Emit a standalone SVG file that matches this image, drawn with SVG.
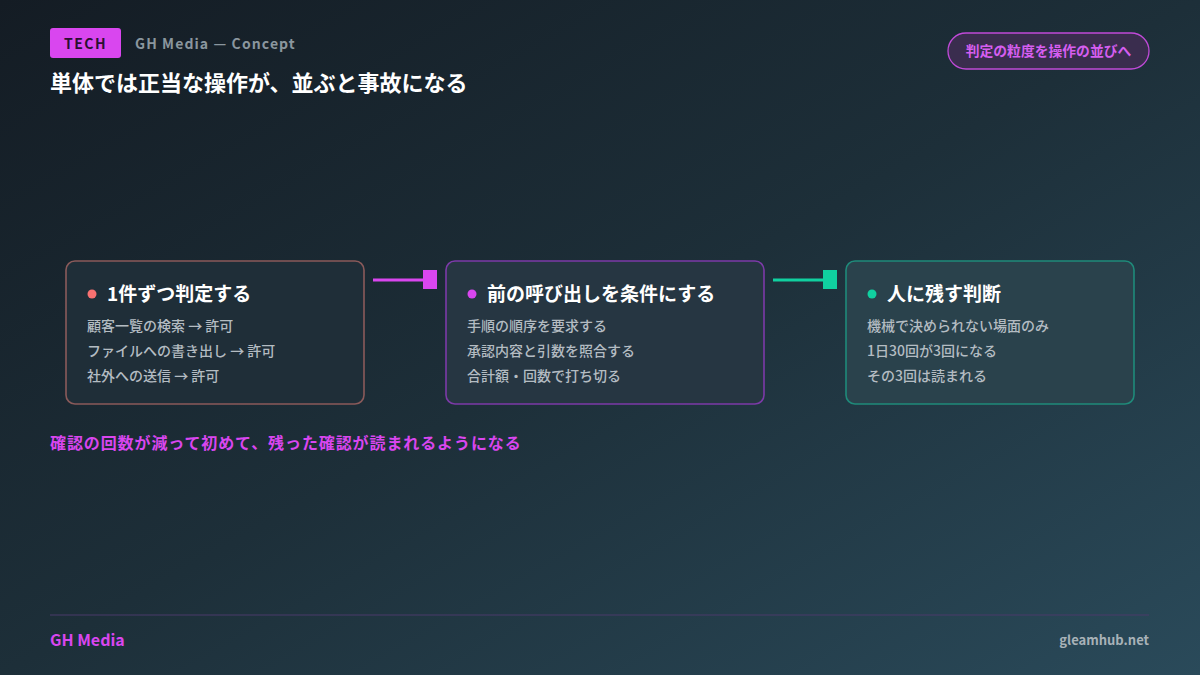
<svg xmlns="http://www.w3.org/2000/svg" width="1200" height="675" viewBox="0 0 1200 675">
<defs>
<linearGradient id="bg" x1="0" y1="0" x2="1" y2="1">
<stop offset="0" stop-color="#141c24"/><stop offset="0.5" stop-color="#1d2f39"/><stop offset="1" stop-color="#2a4a5a"/>
</linearGradient>
<style>
text{font-family:"Noto Sans CJK JP","Noto Sans",sans-serif}
.t{font-size:19px;font-weight:700;fill:#ffffff}
.b{font-size:14px;font-weight:500;fill:#b4bcc2}
.card{stroke-width:1.6}
</style>
</defs>
<rect width="1200" height="675" fill="url(#bg)"/>
<rect x="50" y="28" width="71" height="30" rx="3" fill="#d946ef"/>
<text x="85.5" y="49" text-anchor="middle" font-size="14" font-weight="700" fill="#2a1030" letter-spacing="1.5">TECH</text>
<text x="135" y="49" font-size="14" font-weight="700" fill="#8a969e" letter-spacing="1.1">GH Media — Concept</text>
<text x="50" y="91" font-size="22" font-weight="700" fill="#ffffff">単体では正当な操作が、並ぶと事故になる</text>
<g id="badge"><rect x="948" y="33" width="201" height="36" rx="18" fill="#3a2d4e" stroke="#c04ad8" stroke-width="1.3"/>
<text x="1048.5" y="56" text-anchor="middle" font-size="13.8" font-weight="700" fill="#d65ef0">判定の粒度を操作の並びへ</text></g>
<g id="n1"><rect class="card" x="66" y="261" width="298" height="143" rx="9" fill="#1f2e38" stroke="#8a5a5a"/>
<circle cx="92" cy="294" r="4.5" fill="#f87171"/>
<text class="t" x="107" y="301">1件ずつ判定する</text>
<text class="b" x="87" y="331">顧客一覧の検索 → 許可</text>
<text class="b" x="87" y="356">ファイルへの書き出し → 許可</text>
<text class="b" x="87" y="381">社外への送信 → 許可</text></g>
<g id="n2"><rect class="card" x="446" y="261" width="318" height="143" rx="9" fill="#263642" stroke="#7c3aa8"/>
<circle cx="472" cy="294" r="4.5" fill="#d946ef"/>
<text class="t" x="487" y="301">前の呼び出しを条件にする</text>
<text class="b" x="467" y="331">手順の順序を要求する</text>
<text class="b" x="467" y="356">承認内容と引数を照合する</text>
<text class="b" x="467" y="381">合計額・回数で打ち切る</text></g>
<g id="n3"><rect class="card" x="846" y="261" width="288" height="143" rx="9" fill="#2a424c" stroke="#1f8a7a"/>
<circle cx="872" cy="294" r="4.5" fill="#10d0a0"/>
<text class="t" x="887" y="301">人に残す判断</text>
<text class="b" x="867" y="331">機械で決められない場面のみ</text>
<text class="b" x="867" y="356">1日30回が3回になる</text>
<text class="b" x="867" y="381">その3回は読まれる</text></g>
<g id="connectors">
<line x1="373" y1="280" x2="424" y2="280" stroke="#d946ef" stroke-width="3"/>
<rect x="423" y="270" width="14" height="19" fill="#d946ef"/>
<line x1="773" y1="280" x2="824" y2="280" stroke="#10d0a0" stroke-width="3"/>
<rect x="823" y="270" width="14" height="19" fill="#10d0a0"/>
</g>
<text x="50" y="449" font-size="16" font-weight="700" fill="#d946ef" letter-spacing="0.9">確認の回数が減って初めて、残った確認が読まれるようになる</text>
<line x1="50" y1="615" x2="1149" y2="615" stroke="#4a3a6a" stroke-width="1"/>
<text x="50" y="646" font-size="16" font-weight="700" fill="#d946ef">GH Media</text>
<text x="1149" y="645" text-anchor="end" font-size="13" font-weight="700" fill="#a8b2b8">gleamhub.net</text>
</svg>
